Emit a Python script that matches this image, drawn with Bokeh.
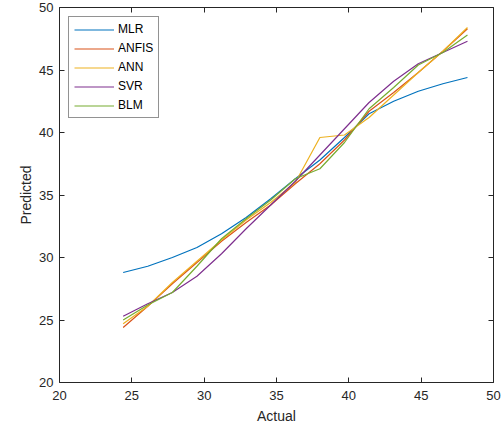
from bokeh.plotting import figure
from bokeh.models import LinearAxis, Range1d, FixedTicker, Legend, LegendItem
from bokeh.embed import file_html
from bokeh.resources import INLINE

actual = [24.4, 26.1, 27.8, 29.5, 31.2, 32.9, 34.6, 36.3, 38.0, 39.7, 41.4, 43.1, 44.8, 46.5, 48.2]
mlr   = [28.8, 29.3, 30.0, 30.8, 31.9, 33.2, 34.7, 36.3, 37.8, 39.6, 41.5, 42.5, 43.3, 43.9, 44.4]
anfis = [24.4, 26.1, 27.9, 29.6, 31.3, 32.8, 34.2, 35.9, 37.5, 39.4, 41.7, 43.2, 44.8, 46.5, 48.3]
ann   = [24.7, 26.1, 28.0, 29.7, 31.4, 33.0, 34.4, 36.0, 39.6, 39.8, 41.2, 43.0, 44.8, 46.5, 48.4]
svr   = [25.3, 26.3, 27.2, 28.5, 30.3, 32.3, 34.2, 36.1, 38.2, 40.3, 42.4, 44.1, 45.5, 46.4, 47.3]
blm   = [25.0, 26.2, 27.2, 29.3, 31.5, 33.1, 34.6, 36.3, 37.1, 39.2, 41.9, 43.6, 45.4, 46.4, 47.8]

names = ["MLR", "ANFIS", "ANN", "SVR", "BLM"]
series = [mlr, anfis, ann, svr, blm]
colors = ["#0072BD", "#D95319", "#EDB120", "#7E2F8E", "#77AC30"]
ticks = [20, 25, 30, 35, 40, 45, 50]

FONT = "Liberation Sans"
TXT = "#262626"

p = figure(width=502, height=430, output_backend="svg", toolbar_location=None,
           x_range=Range1d(20, 50), y_range=Range1d(20, 50),
           min_border_left=59, min_border_right=9, min_border_top=7, min_border_bottom=48)
p.xgrid.visible = False
p.ygrid.visible = False
p.outline_line_color = TXT
p.outline_line_width = 1
p.background_fill_color = "white"
p.border_fill_color = "white"

items = []
for name, ys, c in zip(names, series, colors):
    r = p.line(actual, ys, line_color=c, line_width=1.2)
    items.append(LegendItem(label=name, renderers=[r]))

for ax in (p.xaxis[0], p.yaxis[0]):
    ax.ticker = FixedTicker(ticks=ticks)
    ax.major_tick_in = 5
    ax.major_tick_out = 0
    ax.minor_tick_line_color = None
    ax.axis_line_color = None
    ax.major_tick_line_color = TXT
    ax.major_label_text_font = FONT
    ax.major_label_text_font_size = "13px"
    ax.major_label_text_color = TXT
    ax.axis_label_text_font = FONT
    ax.axis_label_text_font_size = "14px"
    ax.axis_label_text_font_style = "normal"
    ax.axis_label_text_color = TXT

p.xaxis.axis_label = "Actual"
p.yaxis.axis_label = "Predicted"
p.xaxis.major_label_standoff = 8
p.xaxis.axis_label_standoff = 5
p.yaxis.major_label_standoff = 6
p.yaxis.axis_label_standoff = 2

for loc in ("above", "right"):
    ax = LinearAxis(ticker=FixedTicker(ticks=ticks))
    ax.major_tick_in = 5
    ax.major_tick_out = 0
    ax.minor_tick_line_color = None
    ax.axis_line_color = None
    ax.major_tick_line_color = TXT
    ax.major_label_overrides = {t: "" for t in ticks}
    ax.major_label_standoff = 0
    p.add_layout(ax, loc)

legend = Legend(items=items, location="top_left")
legend.margin = 9
legend.padding = 5
legend.spacing = 4
legend.label_height = 13
legend.glyph_height = 13
legend.glyph_width = 40
legend.label_standoff = 4
legend.label_text_font = FONT
legend.label_text_font_size = "12px"
legend.label_text_color = "black"
legend.border_line_color = TXT
legend.border_line_width = 1
legend.background_fill_color = "white"
legend.background_fill_alpha = 1
legend.spacing = 5
p.add_layout(legend)

open("out.html", "w").write(file_html(p, INLINE))
